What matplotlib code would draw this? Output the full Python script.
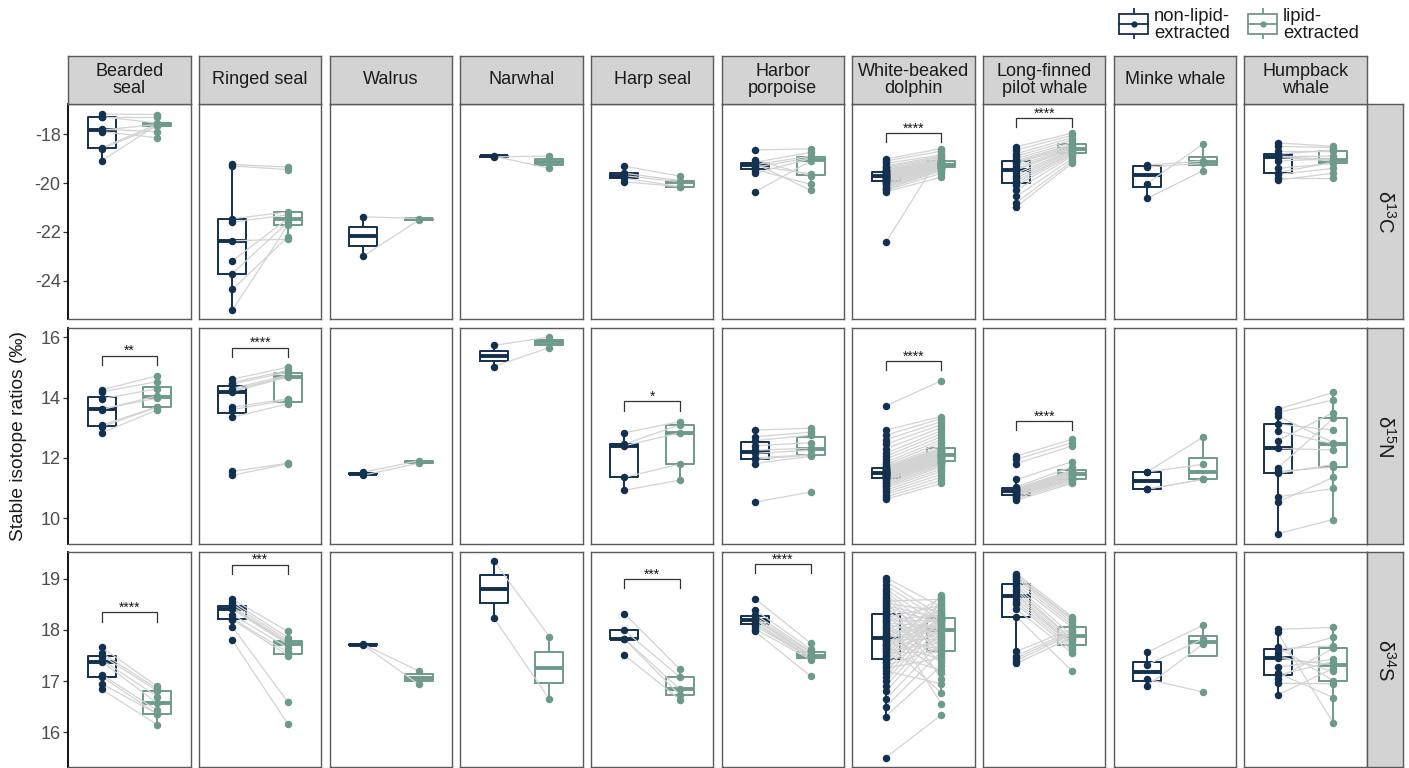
import matplotlib
matplotlib.use("Agg")
import matplotlib.pyplot as plt
from matplotlib.patches import Rectangle
import numpy as np

plt.rcParams["font.family"] = ["Liberation Sans", "DejaVu Sans"]
plt.rcParams["mathtext.fontset"] = "custom"
plt.rcParams["mathtext.rm"] = "Liberation Sans"
plt.rcParams["mathtext.it"] = "Liberation Sans:italic"
plt.rcParams["mathtext.bf"] = "Liberation Sans:bold"

species = ["Bearded\nseal", "Ringed seal", "Walrus", "Narwhal", "Harp seal",
           "Harbor\nporpoise", "White-beaked\ndolphin", "Long-finned\npilot whale",
           "Minke whale", "Humpback\nwhale"]
isotopes = ["δ$^{13}$C", "δ$^{15}$N", "δ$^{34}$S"]
groups = ["non-lipid-\nextracted", "lipid-\nextracted"]

# paired samples: raw (non-lipid-extracted) and lex (lipid-extracted), same order
d13c_raw = [
    [-17.18, -17.29, -17.3, -17.8, -17.84, -17.9, -18.56, -18.6, -19.09],
    [-19.24, -19.3, -21.46, -21.6, -22.36, -23.18, -23.7, -24.35, -25.2],
    [-21.38, -22.99],
    [-18.9, -18.93],
    [-19.31, -19.6, -19.7, -19.8, -19.95],
    [-18.65, -19.05, -19.15, -19.2, -19.25, -19.3, -19.35, -19.45, -19.6, -20.36],
    [-22.43, -20.36, -20.3, -20.25, -20.2, -20.15, -20.1, -20.05, -20.0, -19.95,
     -19.92, -19.9, -19.88, -19.86, -19.84, -19.82, -19.8, -19.78, -19.76, -19.74,
     -19.72, -19.7, -19.7, -19.68, -19.66, -19.64, -19.62, -19.6, -19.58, -19.55,
     -19.52, -19.5, -19.48, -19.45, -19.4, -19.35, -19.3, -19.2, -19.1, -19.02],
    [-20.97, -20.8, -20.55, -20.3, -20.1, -19.99, -19.9, -19.8, -19.7, -19.6, -19.47,
     -19.4, -19.3, -19.2, -19.15, -19.09, -19.0, -18.9, -18.8, -18.65, -18.52],
    [-19.27, -19.34, -20.02, -20.63],
    [-19.88, -19.8, -19.65, -19.57, -19.4, -19.1, -18.95, -18.92, -18.9, -18.82,
     -18.7, -18.5, -18.36],
]
d13c_lex = [
    [-17.2, -17.55, -17.3, -17.9, -17.6, -18.15, -17.6, -17.68, -17.62],
    [-19.35, -19.45, -21.18, -21.3, -22.3, -21.45, -21.6, -22.2, -21.72],
    [-21.45, -21.52],
    [-19.4, -18.9],
    [-19.72, -19.9, -19.95, -20.15, -20.15],
    [-18.6, -19.7, -18.75, -20.3, -18.9, -19.62, -18.97, -20.05, -19.0, -19.1],
    [-18.8, -19.76, -19.6, -19.5, -19.45, -19.42, -19.4, -19.38, -19.37, -19.36,
     -19.35, -19.34, -19.33, -19.32, -19.31, -19.3, -19.29, -19.28, -19.27, -19.26,
     -19.25, -19.24, -19.23, -19.22, -19.21, -19.2, -19.19, -19.18, -19.17, -19.15,
     -19.12, -19.1, -19.08, -19.05, -19.0, -18.95, -18.9, -18.85, -18.7, -18.59],
    [-19.19, -19.1, -19.0, -18.9, -18.85, -18.79, -18.75, -18.7, -18.67, -18.64, -18.6,
     -18.57, -18.54, -18.5, -18.46, -18.42, -18.35, -18.25, -18.15, -18.05, -17.96],
    [-19.1, -19.2, -18.42, -19.5],
    [-19.6, -19.8, -19.4, -19.15, -19.2, -19.0, -19.1, -18.9, -19.06, -18.65,
     -18.7, -18.55, -18.5],
]

d15n_raw = [
    [12.83, 13.03, 13.08, 13.6, 13.62, 13.96, 14.19, 14.26],
    [11.42, 11.55, 13.35, 13.6, 13.68, 14.2, 14.25, 14.3, 14.45, 14.5, 14.61],
    [11.42, 11.52],
    [15.73, 15.03],
    [12.83, 12.45, 12.4, 11.35, 10.92],
    [10.53, 11.81, 11.95, 12.0, 12.15, 12.25, 12.4, 12.57, 12.7, 12.92],
    [10.62, 10.7, 10.78, 10.85, 10.92, 11.0, 11.05, 11.1, 11.15, 11.2,
     11.25, 11.28, 11.32, 11.34, 11.36, 11.38, 11.4, 11.42, 11.43, 11.44,
     11.45, 11.46, 11.47, 11.48, 11.49, 11.5, 11.51, 11.52, 11.53, 11.54,
     11.55, 11.56, 11.58, 11.6, 11.62, 11.64, 11.66, 11.68, 11.72, 11.78,
     11.85, 11.95, 12.05, 12.15, 12.3, 12.45, 12.6, 12.75, 12.92, 13.72],
    [10.59, 10.65, 10.7, 10.75, 10.77, 10.78, 10.8, 10.83, 10.85, 10.88, 10.9,
     10.92, 10.93, 10.95, 10.97, 10.98, 11.03, 11.28, 11.81, 11.95, 12.06],
    [11.53, 11.53, 10.96, 10.96],
    [9.48, 10.53, 10.7, 11.48, 11.55, 11.66, 12.31, 12.57, 12.89, 13.12, 13.39,
     13.5, 13.61],
]
d15n_lex = [
    [13.59, 13.68, 13.7, 14.06, 13.98, 14.29, 14.53, 14.72],
    [11.8, 11.82, 13.79, 13.92, 13.96, 14.68, 14.7, 14.75, 14.85, 14.9, 15.01],
    [11.82, 11.9],
    [16.01, 15.66],
    [13.2, 13.1, 12.83, 11.79, 11.26],
    [10.86, 12.05, 12.09, 12.1, 12.25, 12.32, 12.5, 12.75, 12.85, 12.98],
    [11.15, 11.25, 11.35, 11.45, 11.55, 11.62, 11.7, 11.75, 11.8, 11.83,
     11.85, 11.86, 11.87, 11.9, 11.93, 11.95, 11.97, 12.0, 12.02, 12.04,
     12.05, 12.06, 12.07, 12.08, 12.09, 12.1, 12.11, 12.12, 12.14, 12.16,
     12.18, 12.2, 12.22, 12.24, 12.26, 12.28, 12.3, 12.33, 12.4, 12.5,
     12.6, 12.7, 12.8, 12.9, 13.0, 13.1, 13.2, 13.3, 13.37, 14.56],
    [11.15, 11.2, 11.25, 11.28, 11.3, 11.31, 11.35, 11.38, 11.4, 11.43, 11.45,
     11.48, 11.5, 11.53, 11.56, 11.59, 11.7, 11.87, 12.39, 12.5, 12.61],
    [12.68, 11.78, 11.28, 11.28],
    [9.95, 11.35, 10.98, 11.78, 11.69, 13.31, 12.26, 13.5, 12.46, 12.92, 12.5,
     13.92, 14.17],
]

d34s_raw = [
    [16.84, 16.95, 17.09, 17.13, 17.38, 17.42, 17.5, 17.55, 17.66],
    [17.8, 18.06, 18.2, 18.22, 18.3, 18.4, 18.42, 18.45, 18.5, 18.55, 18.6],
    [17.71, 17.72],
    [19.35, 18.24],
    [18.32, 17.99, 17.83, 17.82, 17.51],
    [17.97, 18.02, 18.08, 18.12, 18.15, 18.2, 18.2, 18.22, 18.25, 18.3, 18.39, 18.61],
    [15.51, 16.31, 16.5, 16.65, 16.8, 16.9, 17.0, 17.08, 17.15, 17.2,
     17.25, 17.3, 17.35, 17.38, 17.41, 17.44, 17.47, 17.5, 17.53, 17.56,
     17.59, 17.62, 17.65, 17.68, 17.7, 17.72, 17.75, 17.78, 17.8, 17.83,
     17.85, 17.88, 17.9, 17.93, 17.96, 18.0, 18.03, 18.06, 18.1, 18.13,
     18.17, 18.2, 18.24, 18.27, 18.3, 18.33, 18.37, 18.4, 18.44, 18.48,
     18.52, 18.56, 18.6, 18.65, 18.7, 18.75, 18.8, 18.87, 18.95, 19.02],
    [17.35, 17.4, 17.45, 17.5, 17.58, 18.26, 18.4, 18.5, 18.55, 18.6, 18.66,
     18.7, 18.75, 18.8, 18.85, 18.89, 18.95, 19.0, 19.03, 19.06, 19.1],
    [17.56, 17.32, 17.04, 16.91],
    [16.73, 16.96, 17.05, 17.12, 17.16, 17.27, 17.45, 17.5, 17.55, 17.63, 17.67,
     17.95, 18.01],
]
d34s_lex = [
    [16.15, 16.36, 16.36, 16.43, 16.57, 16.7, 16.81, 16.85, 16.9],
    [16.16, 16.59, 17.5, 17.56, 17.65, 17.72, 17.74, 17.76, 17.8, 17.85, 17.97],
    [16.94, 17.2],
    [17.87, 16.65],
    [17.23, 17.08, 16.84, 16.73, 16.64],
    [17.1, 17.42, 17.45, 17.45, 17.47, 17.5, 17.5, 17.52, 17.56, 17.58, 17.62, 17.74],
    [16.34, 17.3, 17.58, 17.78, 17.97, 18.11, 18.21, 18.33, 18.56, 16.95,
     17.46, 17.66, 17.86, 18.03, 18.17, 18.25, 18.42, 18.68, 17.22, 17.56,
     17.75, 17.94, 18.09, 18.2, 18.31, 18.52, 16.77, 17.42, 17.63, 17.83,
     18.01, 18.15, 18.23, 18.39, 18.64, 17.15, 17.53, 17.72, 17.91, 18.07,
     18.19, 18.29, 18.48, 16.56, 17.36, 17.6, 17.8, 17.99, 18.13, 18.22,
     18.36, 18.6, 17.05, 17.5, 17.69, 17.88, 18.05, 18.18, 18.27, 18.45],
    [17.85, 17.92, 17.95, 17.98, 18.02, 17.2, 17.55, 17.6, 17.65, 17.7, 17.71,
     17.75, 17.8, 17.82, 17.89, 18.05, 18.1, 18.15, 18.2, 18.22, 18.26],
    [18.09, 17.82, 16.79, 17.72],
    [17.25, 16.95, 17.64, 17.38, 16.68, 17.43, 17.32, 17.19, 17.86, 17.69, 17.01,
     16.18, 18.05],
]

# paired-test labels and bracket heights (None = no bracket)
sig_d13c = [None, None, None, None, None, None, ("****", -17.97), ("****", -17.36), None, None]
sig_d15n = [("**", 15.39), ("****", 15.65), None, None, ("*", 13.87), None,
            ("****", 15.2), ("****", 13.22), None, None]
sig_d34s = [("****", 18.34), ("***", 19.27), None, None, ("***", 18.99), ("****", 19.28),
            None, None, None, None]

row_raw = [d13c_raw, d15n_raw, d34s_raw]
row_lex = [d13c_lex, d15n_lex, d34s_lex]
row_sig = [sig_d13c, sig_d15n, sig_d34s]
row_ylim = [(-25.57, -16.77), (9.15, 16.3), (15.32, 19.52)]
row_ticks = [[-24, -22, -20, -18], [10, 12, 14, 16], [16, 17, 18, 19]]

NAVY = "#14304f"
SAGE = "#6e9a8c"
PAIR = "#d3d3d3"
BORDER = "#5a5a5a"
STRIP = "#d3d3d3"

W, H = 1409, 768
fig = plt.figure(figsize=(W / 100, H / 100), dpi=100)


def frac(x, y, w, h):
    # pixel box (left, top, width, height) -> figure fraction rect
    return [x / W, 1 - (y + h) / H, w / W, h / H]


col_left = [68.3 + i * 130.67 for i in range(10)]
panel_w = 122.4
row_top = [104.0, 328.3, 552.0]
panel_h = 215.3


def draw_panel(ax, raw, lex, sig, ylim):
    for x, vals, c in ((1, raw, NAVY), (2, lex, SAGE)):
        ax.boxplot(vals, positions=[x], widths=0.5, whis=1.5, showfliers=False,
                   showcaps=False, manage_ticks=False, zorder=1.5,
                   boxprops=dict(color=c, lw=1.4),
                   whiskerprops=dict(color=c, lw=1.4),
                   medianprops=dict(color=c, lw=2.8, solid_capstyle="butt"))
    for a, b in zip(raw, lex):
        ax.plot([1, 2], [a, b], color=PAIR, lw=0.9, zorder=2)
    ax.plot(np.ones(len(raw)), raw, "o", ms=5.4, color=NAVY, mew=0, zorder=3)
    ax.plot(np.full(len(lex), 2.0), lex, "o", ms=5.4, color=SAGE, mew=0, zorder=3)
    if sig is not None:
        label, y = sig
        tip = 0.042 * (ylim[1] - ylim[0])
        ax.plot([1, 1, 2, 2], [y - tip, y, y, y - tip], color="#333333", lw=0.9, zorder=4)
        ax.annotate(label, (1.5, y), xytext=(0, 0.5), textcoords="offset points",
                    ha="center", va="baseline", fontsize=10, color="#1a1a1a")
    ax.set_xlim(0.4, 2.6)
    ax.set_ylim(*ylim)


for r in range(3):
    for c in range(10):
        ax = fig.add_axes(frac(col_left[c], row_top[r], panel_w, panel_h))
        draw_panel(ax, row_raw[r][c], row_lex[r][c], row_sig[r][c], row_ylim[r])
        ax.set_xticks([])
        for s in ax.spines.values():
            s.set_color(BORDER)
            s.set_linewidth(1.0)
        if c == 0:
            ax.set_yticks(row_ticks[r])
            ax.set_yticklabels([f"{t:g}" for t in row_ticks[r]])
            ax.tick_params(axis="y", length=3.5, width=0.9, color="#333333",
                           labelsize=13, labelcolor="#4d4d4d", pad=2)
            ax.spines["left"].set_color("black")
            ax.spines["left"].set_linewidth(1.3)
        else:
            ax.set_yticks([])

    # isotope strip on the right
    sax = fig.add_axes(frac(1366.7, row_top[r], 36.0, panel_h))
    sax.set_facecolor(STRIP)
    sax.set_xticks([])
    sax.set_yticks([])
    for s in sax.spines.values():
        s.set_color(BORDER)
        s.set_linewidth(1.0)
    sax.text(0.5, 0.5, isotopes[r], rotation=-90, ha="center", va="center",
             fontsize=14.5, color="#1a1a1a", transform=sax.transAxes)

# species strips on top
for c in range(10):
    sax = fig.add_axes(frac(col_left[c], 55.7, panel_w, 48.3))
    sax.set_facecolor(STRIP)
    sax.set_xticks([])
    sax.set_yticks([])
    for s in sax.spines.values():
        s.set_color(BORDER)
        s.set_linewidth(1.0)
    sax.text(0.5, 0.5, species[c], ha="center", va="center", fontsize=13,
             linespacing=1.05, color="#1a1a1a", transform=sax.transAxes)

fig.text(19 / W, 1 - 436 / H, "Stable isotope ratios (‰)", rotation=90,
         ha="center", va="center", fontsize=13.8, color="#1a1a1a")

# legend: boxplot glyphs with labels
for x0, c, label in ((1118.3, NAVY, groups[0]), (1247.3, SAGE, groups[1])):
    lax = fig.add_axes(frac(x0, 8.3, 30.7, 31.0))
    lax.set_xlim(0, 1)
    lax.set_ylim(0, 1)
    lax.axis("off")
    lax.plot([0.5, 0.5], [0, 1], color=c, lw=1.3)
    lax.add_patch(Rectangle((0.02, 0.18), 0.96, 0.62, fill=True, fc="white",
                            ec=c, lw=1.3, zorder=2))
    lax.plot([0.02, 0.98], [0.5, 0.5], color=c, lw=1.3, zorder=3)
    lax.plot([0.5], [0.5], "o", ms=4.5, color=c, mew=0, zorder=4)
    fig.text((x0 + 35.5) / W, 1 - 25 / H, label, ha="left", va="center",
             fontsize=13.3, linespacing=1.0, color="#1a1a1a")

fig.savefig("out.png", dpi=100)
